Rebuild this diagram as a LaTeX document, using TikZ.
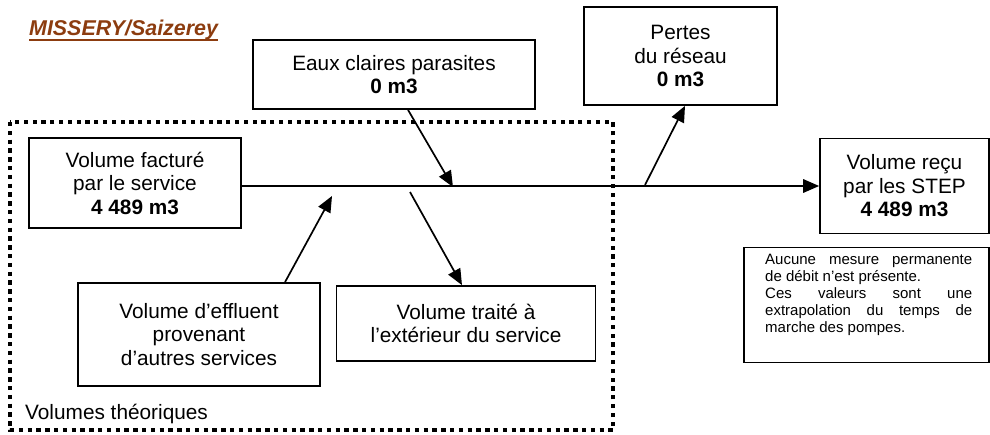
\documentclass[tikz,border=0pt]{standalone}
\usepackage{fontspec}
\setmainfont{Liberation Sans}
\usetikzlibrary{arrows.meta}
\definecolor{titlebrown}{RGB}{140,60,15}
\newcommand\bigtxt{\fontsize{20.8pt}{23.5pt}\selectfont}
\newcommand\titletxt{\fontsize{21.4pt}{24pt}\selectfont}
\newcommand\smalltxt{\fontsize{15pt}{17pt}\selectfont}
\tikzset{
  box/.style={draw, line width=1.7pt, align=center, inner sep=0pt, font=\bigtxt},
  flow/.style={line width=1.7pt, -{Triangle[length=16pt,width=13.5pt]}},
  dotbox/.style={line width=4pt, dash pattern=on 4.3pt off 4.5pt},
}
\begin{document}
\begin{tikzpicture}[x=1pt,y=-1pt]
\useasboundingbox (0,0) rectangle (990,434);
% title
\node[anchor=base west, inner sep=0pt, text=titlebrown, font=\titletxt\bfseries\itshape] (title) at (29,35) {MISSERY/Saizerey};
\draw[titlebrown, line width=2pt] ([yshift=-4.5pt]title.base west) -- ([yshift=-4.5pt]title.base east);
% dotted frame
\draw[dotbox] (10,122) rectangle (613,430);
\node[anchor=base west, inner sep=0pt, font=\bigtxt] (vt) at (25,419) {Volumes théoriques};
% boxes
\node[box, minimum width=212pt, minimum height=90pt] (facture) at (135,183) {Volume facturé\\par le service\\\textbf{4 489 m3}};
\node[box, minimum width=282pt, minimum height=69pt] (eaux) at (394,74.5) {Eaux claires parasites\\\textbf{0 m3}};
\node[box, minimum width=193pt, minimum height=98pt] (pertes) at (680.5,56) {Pertes\\du réseau\\\textbf{0 m3}};
\node[box, minimum width=169pt, minimum height=95pt] (recu) at (904.5,186) {Volume reçu\\par les STEP\\\textbf{4 489 m3}};
\node[box, minimum width=242pt, minimum height=103pt] (effluent) at (199,334.5) {Volume d’effluent\\provenant\\d’autres services};
\node[box, minimum width=259pt, minimum height=75pt] (traite) at (466,323.5) {Volume traité à\\l’extérieur du service};
% note
\node[draw, line width=1.4pt, minimum width=245pt, minimum height=115pt, inner sep=0pt] (notebox) at (866.5,305) {};
\node[anchor=north west, inner sep=0pt, text width=207pt, align=justify, font=\smalltxt] (notetext) at (765,254)
 {Aucune mesure permanente\linebreak de débit n’est présente.\par Ces valeurs sont une\linebreak extrapolation du temps de\linebreak marche des pompes.};
% junction points on the main line
\coordinate (j1) at (453,187);
\coordinate (j2) at (332,196);
\coordinate (j3) at (410,192);
\coordinate (j4) at (645,185);
% connectors
\draw[flow] (recu.west -| facture.east) -- (recu.west);
\draw[flow] ([xshift=14pt]eaux.south) -- (j1);
\draw[flow] ([xshift=86pt]effluent.north) -- (j2);
\draw[flow] (j3) -- ([xshift=-4pt]traite.north);
\draw[flow] (j4) -- ([xshift=4.5pt]pertes.south);
\end{tikzpicture}
\end{document}
